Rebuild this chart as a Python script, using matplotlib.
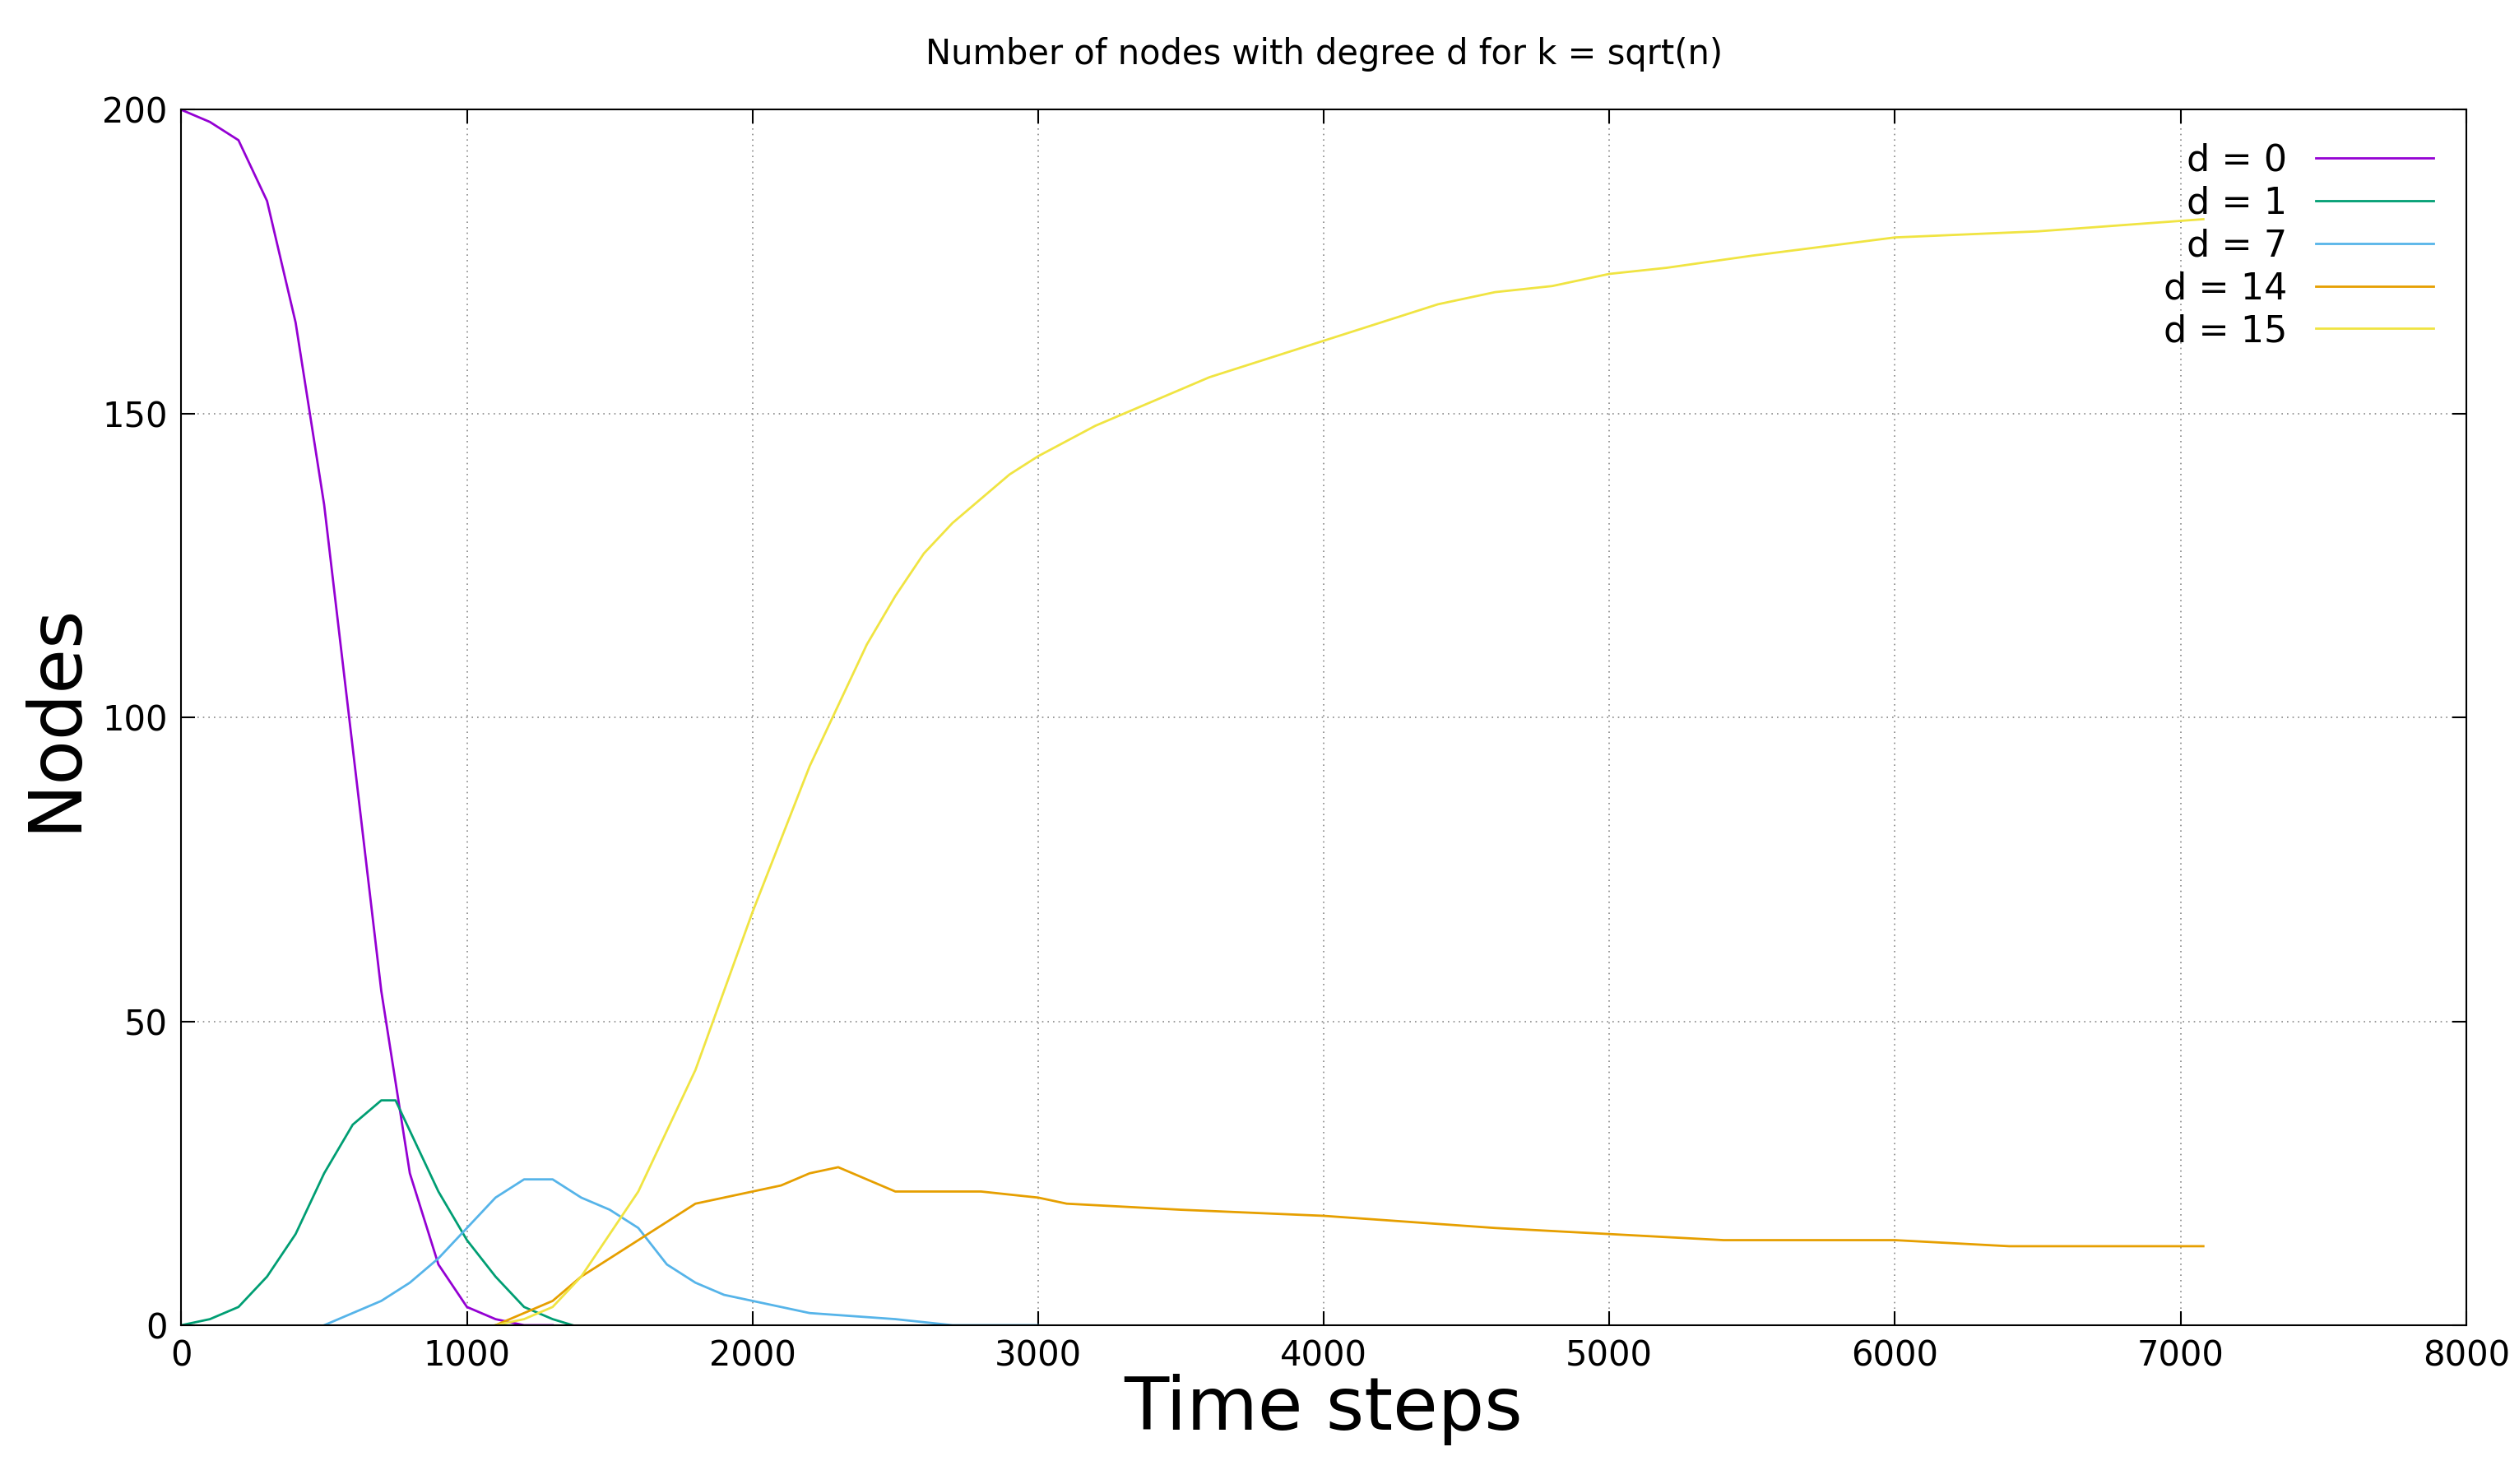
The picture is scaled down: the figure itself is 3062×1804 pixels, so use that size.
import matplotlib
matplotlib.use("Agg")
import matplotlib.pyplot as plt

t0 = [0,100,200,300,400,500,600,700,800,900,1000,1100,1200,1300]
d0 = [200,198,195,185,165,135,95,55,25,10,3,1,0,0]
t1 = [0,100,200,300,400,500,600,700,750,800,900,1000,1100,1200,1300,1370]
d1 = [0,1,3,8,15,25,33,37,37,32,22,14,8,3,1,0]
t7 = [500,600,700,800,900,1000,1100,1200,1300,1400,1500,1600,1700,1800,1900,2000,2200,2500,2700,3000]
d7 = [0,2,4,7,11,16,21,24,24,21,19,16,10,7,5,4,2,1,0,0]
t14 = [1100,1200,1300,1400,1500,1600,1700,1800,1900,2000,2100,2200,2300,2400,2500,2700,2800,3000,3100,3500,4000,4300,4600,5000,5400,6000,6400,7080]
d14 = [0,2,4,8,11,14,17,20,21,22,23,25,26,24,22,22,22,21,20,19,18,17,16,15,14,14,13,13]
t15 = [1100,1200,1300,1400,1500,1600,1700,1800,1900,2000,2100,2200,2300,2400,2500,2600,2700,2800,2900,3000,3200,3400,3600,3800,4000,4200,4400,4600,4800,5000,5200,5500,6000,6500,7080]
d15 = [0,1,3,8,15,22,32,42,55,68,80,92,102,112,120,127,132,136,140,143,148,152,156,159,162,165,168,170,171,173,174,176,179,180,182]

series = [("d = 0", t0, d0, "#9400d3"), ("d = 1", t1, d1, "#009e73"),
          ("d = 7", t7, d7, "#56b4e9"), ("d = 14", t14, d14, "#e69f00"),
          ("d = 15", t15, d15, "#f0e442")]

fig = plt.figure(figsize=(30.62, 18.04), dpi=100)
ax = fig.add_axes([0.072, 0.107, 0.907, 0.819])
for lab, t, d, c in series:
    ax.plot(t, d, color=c, lw=2, label=lab)
ax.set_xlim(0, 8000)
ax.set_ylim(0, 200)
ax.set_xticks(range(0, 8001, 1000))
ax.set_yticks(range(0, 201, 50))
ax.grid(True, linestyle=(0, (1, 3)), color="#888888", lw=1.2)
ax.tick_params(direction="in", top=True, right=True, labelsize=30, length=12, width=1.5, pad=12)
for s in ax.spines.values():
    s.set_linewidth(1.5)
ax.set_title("Number of nodes with degree d for k = sqrt(n)", fontsize=30, pad=40)
ax.set_xlabel("Time steps", fontsize=64, labelpad=0)
ax.set_ylabel("Nodes", fontsize=64, labelpad=10)
ax.legend(loc="upper right", frameon=False, fontsize=32, markerfirst=False,
          handlelength=3.2, labelspacing=0.2, borderaxespad=0.5)
fig.savefig("out.png", dpi=100)
